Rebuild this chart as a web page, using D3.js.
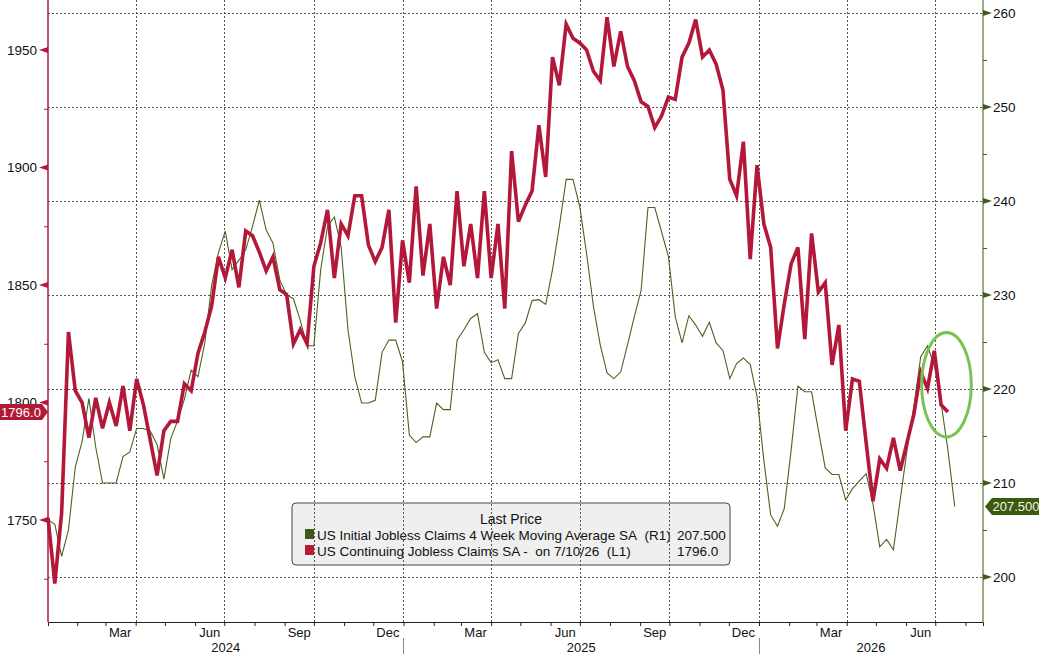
<!DOCTYPE html>
<html>
<head>
<meta charset="utf-8">
<script src="https://cdnjs.cloudflare.com/ajax/libs/d3/7.8.5/d3.min.js"></script>
<style>
  body { margin: 0; background: #fff; }
  svg { display: block; font-family: "Liberation Sans", Arial, sans-serif; }
</style>
</head>
<body>
<svg id="chart" width="1039" height="654"></svg>
<script>
// weekly data, first observation and then every 7 days
const startDate = "2024-01-02";

// US Continuing Jobless Claims SA (thousands, left axis)
const continuingClaims = [
  1751, 1723, 1753, 1830, 1805, 1800, 1785, 1802, 1789, 1800,
  1790, 1807, 1788, 1810, 1799, 1784, 1769, 1788, 1792, 1792,
  1808, 1805, 1821, 1830, 1841, 1862, 1853, 1865, 1849, 1873,
  1871, 1864, 1856, 1862, 1848, 1846, 1825, 1831, 1825, 1858,
  1868, 1882, 1853, 1876, 1871, 1888, 1888, 1867, 1860, 1866,
  1882, 1834, 1869, 1851, 1892, 1854, 1876, 1840, 1862, 1850,
  1890, 1858, 1876, 1853, 1890, 1853, 1876, 1840, 1907, 1877,
  1884, 1890, 1918, 1896, 1947, 1935, 1961, 1955, 1953, 1950,
  1941, 1937, 1964, 1943, 1958, 1943, 1937, 1928, 1926, 1917,
  1922, 1930, 1929, 1947, 1953, 1963, 1947, 1950, 1944, 1933,
  1895, 1888, 1911, 1861, 1901, 1876, 1866, 1823, 1842, 1859,
  1866, 1827, 1872, 1847, 1851, 1816, 1833, 1788, 1810, 1809,
  1783, 1758, 1776, 1772, 1785, 1771, 1783, 1795, 1813, 1806,
  1822, 1799, 1796
];

// US Initial Jobless Claims 4 Week Moving Average SA (thousands, right axis)
const initialClaims4wk = [
  206.1, 205.6, 202.2, 205.0, 211.7, 214.4, 219.0, 213.8, 210.0, 210.0,
  210.0, 212.8, 213.3, 215.8, 215.8, 215.5, 214.1, 210.4, 214.7, 216.6,
  218.9, 222.0, 221.3, 224.9, 231.0, 234.5, 236.8, 232.7, 233.7, 234.8,
  237.3, 240.1, 236.9, 235.5, 231.6, 230.0, 229.6, 227.3, 224.6, 224.6,
  232.7, 237.3, 238.3, 235.1, 226.3, 221.3, 218.5, 218.5, 218.8, 223.9,
  225.2, 225.2, 222.9, 215.1, 214.3, 214.9, 214.9, 218.5, 217.8, 217.8,
  225.2, 226.3, 227.5, 228.0, 223.9, 222.8, 223.1, 221.1, 221.1, 225.9,
  227.0, 229.4, 229.5, 229.0, 232.7, 237.3, 242.3, 242.3, 239.4, 234.4,
  228.8, 224.7, 221.7, 221.1, 221.8, 224.7, 227.7, 230.5, 239.3, 239.3,
  236.7, 234.1, 227.7, 224.9, 227.8, 226.8, 225.6, 227.1, 224.9, 224.1,
  221.1, 222.7, 223.3, 222.6, 219.2, 212.4, 206.6, 205.4, 207.3, 213.5,
  220.3, 219.7, 219.7, 215.6, 211.6, 210.9, 210.9, 208.2, 209.4, 210.2,
  211.0, 207.8, 203.2, 204.0, 202.9, 208.2, 213.5, 218.1, 223.4, 224.6,
  222.5, 218.5, 213.5, 207.5
];

const leftTicks = [1750, 1800, 1850, 1900, 1950];
const leftMinorTicks = [1725, 1775, 1825, 1875, 1925];
const rightTicks = [200, 210, 220, 230, 240, 250, 260];
const rightMinorTicks = [205, 215, 225, 235, 245, 255];
const monthLabels = ["Mar", "Jun", "Sep", "Dec"];
const yearLabels = ["2024", "2025", "2026"];

const legendTitle = "Last Price";
const legendNames = [
  "US Initial Jobless Claims 4 Week Moving Average SA\u00a0\u00a0(R1)",
  "US Continuing Jobless Claims SA -\u00a0\u00a0on 7/10/26\u00a0\u00a0(L1)"
];
const legendValues = ["207.500", "1796.0"];

// highlighted region (dates and right-axis values)
const highlight = { from: "2026-06-17", to: "2026-08-07", low: 214.9, high: 226.0 };

const parse = d3.utcParse("%Y-%m-%d");
const W = 1039, H = 654;
const pL = 48, pR = 983, pT = 0, pB = 622;
const redColor = "#b3173a", greenColor = "#3f5a16";

const svg = d3.select("#chart");

const x = d3.scaleUtc()
    .domain([parse("2024-01-02"), parse("2026-08-19")])
    .range([pL, pR]);
const yL = d3.scaleLinear().domain([1706.6, 1971.3]).range([pB, pT]);
const yR = d3.scaleLinear().domain([195.21, 261.38]).range([pB, pT]);

const start = parse(startDate);
const redData = continuingClaims.map((v, i) => ({date: d3.utcDay.offset(start, 7 * i), val: v}));
const greenData = initialClaims4wk.map((v, i) => ({date: d3.utcDay.offset(start, 7 * i), val: v}));

//legend background first so the grid shows through it
const lg = svg.append("g").attr("transform", "translate(292,503)");
lg.append("rect")
    .attr("width", 438).attr("height", 62)
    .attr("rx", 4)
    .attr("fill", "#efefef")
    .attr("stroke", "#444")
    .attr("stroke-width", 1);

//grid
const grid = svg.append("g")
    .attr("stroke", "#555")
    .attr("stroke-width", 1)
    .attr("stroke-dasharray", "2,2");
grid.selectAll(".hgrid")
    .data(rightTicks)
    .enter().append("line")
        .attr("x1", pL).attr("x2", pR)
        .attr("y1", d => Math.round(yR(d)) + 0.5)
        .attr("y2", d => Math.round(yR(d)) + 0.5);
const quarters = d3.utcMonth.every(3).range(x.domain()[0], x.domain()[1]);
grid.selectAll(".vgrid")
    .data(quarters)
    .enter().append("line")
        .attr("y1", pT).attr("y2", pB)
        .attr("x1", d => Math.round(x(d)) + 0.5)
        .attr("x2", d => Math.round(x(d)) + 0.5);

//bottom axis: month ticks, labels at mid month
const months = d3.utcMonth.range(x.domain()[0], x.domain()[1]);
svg.append("g")
    .attr("transform", `translate(0,${pB})`)
    .call(d3.axisBottom(x).tickValues(months).tickSize(4).tickFormat(""))
    .call(g => g.select(".domain").attr("stroke", "#222"))
    .call(g => g.selectAll(".tick line").attr("stroke", "#222"));

const labelMonths = months
    .filter(d => monthLabels.includes(d3.utcFormat("%b")(d)))
    .map(d => d3.utcDay.offset(d, 15));
svg.append("g").selectAll("text")
    .data(labelMonths)
    .enter().append("text")
        .attr("x", d => x(d))
        .attr("y", 637)
        .attr("text-anchor", "middle")
        .attr("font-size", 13)
        .attr("fill", "#111")
        .text(d => d3.utcFormat("%b")(d));

const yearStarts = yearLabels.map(y => parse(y + "-01-01"));
svg.append("g").selectAll("line")
    .data(yearStarts.slice(1))
    .enter().append("line")
        .attr("x1", d => Math.round(x(d)) + 0.5)
        .attr("x2", d => Math.round(x(d)) + 0.5)
        .attr("y1", 638).attr("y2", H)
        .attr("stroke", "#888");
svg.append("g").selectAll("text")
    .data(yearLabels)
    .enter().append("text")
        .attr("x", (d, i) => {
            const a = Math.max(x(yearStarts[i]), pL);
            const b = i + 1 < yearStarts.length ? x(yearStarts[i + 1]) : pR;
            return (a + b) / 2;
        })
        .attr("y", 652)
        .attr("text-anchor", "middle")
        .attr("font-size", 13)
        .attr("fill", "#111")
        .text(d => d);

//left axis
const la = svg.append("g").attr("transform", `translate(${pL},0)`);
la.call(d3.axisLeft(yL).tickValues(leftMinorTicks).tickSize(4).tickFormat(""))
    .call(g => g.select(".domain").remove())
    .call(g => g.selectAll(".tick line").attr("stroke", redColor));
la.append("line")
    .attr("y1", pT).attr("y2", pB)
    .attr("stroke", redColor).attr("stroke-width", 1.5);
const lt = la.selectAll(".major")
    .data(leftTicks)
    .enter().append("g")
        .attr("transform", d => `translate(0,${yL(d)})`);
lt.append("path").attr("d", "M0,-3L0,3L-9,0Z").attr("fill", redColor);
lt.append("text")
    .attr("x", -11).attr("dy", "0.35em")
    .attr("text-anchor", "end")
    .attr("font-size", 13.5)
    .attr("fill", "#111")
    .text(d => d);

//right axis
const ra = svg.append("g").attr("transform", `translate(${pR},0)`);
ra.call(d3.axisRight(yR).tickValues(rightMinorTicks).tickSize(4).tickFormat(""))
    .call(g => g.select(".domain").remove())
    .call(g => g.selectAll(".tick line").attr("stroke", greenColor));
ra.append("line")
    .attr("y1", pT).attr("y2", pB)
    .attr("stroke", greenColor).attr("stroke-width", 1);
const rt = ra.selectAll(".major")
    .data(rightTicks)
    .enter().append("g")
        .attr("transform", d => `translate(0,${yR(d)})`);
rt.append("path").attr("d", "M0,-3L0,3L9,0Z").attr("fill", greenColor);
rt.append("text")
    .attr("x", 10).attr("dy", "0.35em")
    .attr("font-size", 13.5)
    .attr("fill", "#111")
    .text(d => d);

//lines
svg.append("path")
    .datum(greenData)
    .attr("fill", "none")
    .attr("stroke", "#4a6420")
    .attr("stroke-width", 1.1)
    .attr("d", d3.line().x(d => x(d.date)).y(d => yR(d.val)));
svg.append("path")
    .datum(redData)
    .attr("fill", "none")
    .attr("stroke", redColor)
    .attr("stroke-width", 3.6)
    .attr("stroke-linejoin", "miter")
    .attr("d", d3.line().x(d => x(d.date)).y(d => yL(d.val)));

//highlight ellipse
const ex0 = x(parse(highlight.from)), ex1 = x(parse(highlight.to));
const ey0 = yR(highlight.high), ey1 = yR(highlight.low);
svg.append("ellipse")
    .attr("cx", (ex0 + ex1) / 2).attr("cy", (ey0 + ey1) / 2)
    .attr("rx", (ex1 - ex0) / 2).attr("ry", (ey1 - ey0) / 2)
    .attr("fill", "none")
    .attr("stroke", "#79c255")
    .attr("stroke-width", 3);

//legend contents
lg.append("text")
    .attr("x", 219).attr("y", 21)
    .attr("text-anchor", "middle")
    .attr("font-size", 14)
    .attr("fill", "#111")
    .text(legendTitle);
const legColors = [greenColor, "#b81c30"];
const rows = lg.selectAll(".row")
    .data(legendNames)
    .enter().append("g")
        .attr("transform", (d, i) => `translate(0,${26 + i * 16})`);
rows.append("rect")
    .attr("x", 13).attr("y", 0)
    .attr("width", 9).attr("height", 10)
    .attr("fill", (d, i) => legColors[i]);
rows.append("text")
    .attr("x", 25).attr("y", 10.5)
    .attr("font-size", 13.5)
    .attr("fill", "#111")
    .text(d => d);
rows.append("text")
    .attr("x", 385).attr("y", 10.5)
    .attr("font-size", 13.5)
    .attr("fill", "#111")
    .text((d, i) => legendValues[i]);

//last value badges
const lastRed = redData[redData.length - 1];
const by = yL(lastRed.val);
svg.append("path")
    .attr("d", `M0,${by - 8}L42,${by - 8}L48,${by}L42,${by + 8}L0,${by + 8}Z`)
    .attr("fill", "#b01a35");
svg.append("text")
    .attr("x", 21).attr("y", by).attr("dy", "0.36em")
    .attr("text-anchor", "middle")
    .attr("font-size", 13)
    .attr("fill", "#fff")
    .text(lastRed.val.toFixed(1));

const lastGreen = greenData[greenData.length - 1];
const gy = yR(lastGreen.val);
svg.append("path")
    .attr("d", `M${pR + 2},${gy}L${pR + 9},${gy - 8.5}L${W},${gy - 8.5}L${W},${gy + 8.5}L${pR + 9},${gy + 8.5}Z`)
    .attr("fill", "#3c5910");
svg.append("text")
    .attr("x", pR + 9.5).attr("y", gy).attr("dy", "0.36em")
    .attr("font-size", 13)
    .attr("fill", "#f4f4e4")
    .text(lastGreen.val.toFixed(3));
</script>
</body>
</html>
